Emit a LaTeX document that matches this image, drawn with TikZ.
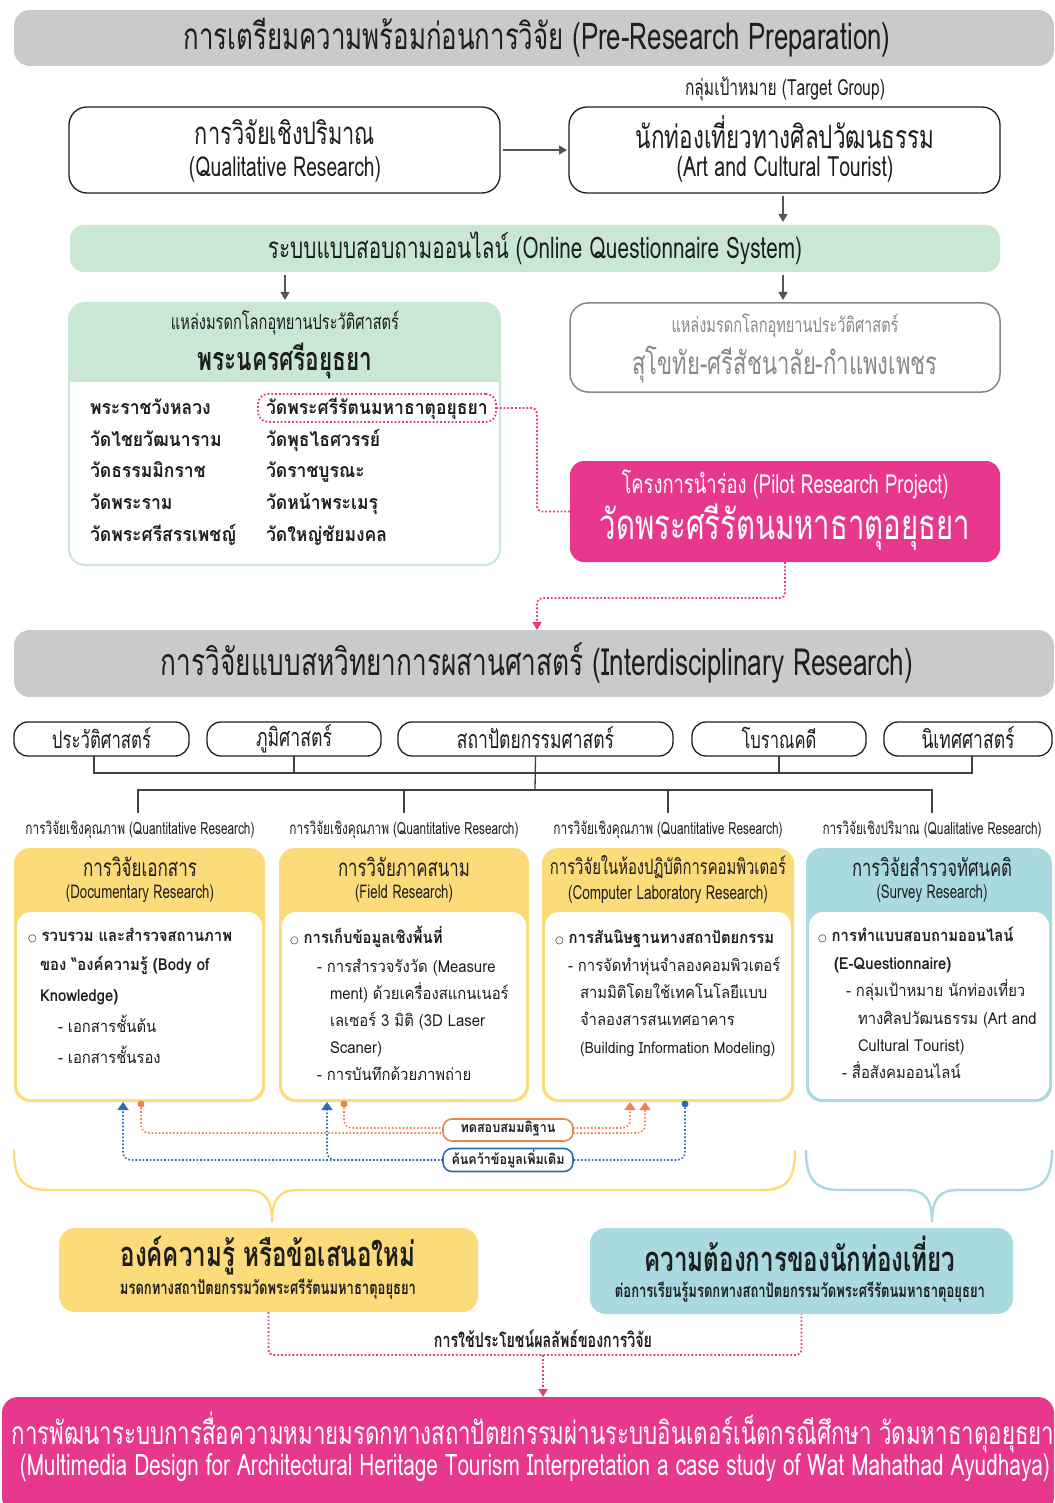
\documentclass[tikz,border=0pt]{standalone}
\usepackage{fontspec}
\usetikzlibrary{arrows.meta,calc}
\setmainfont[Script=Thai]{Loma}
\newfontfamily\hd[Script=Thai,FakeStretch=0.7]{Loma}
\newfontfamily\bd[Script=Thai,FakeStretch=0.9]{Loma}
\newfontfamily\djv{DejaVu Sans}
\newcommand\fit[2]{\resizebox{#1pt}{!}{#2}}
\newcommand\bul{{\fontsize{10}{10}\djv ○}}
\definecolor{hgrey}{HTML}{C9CACC}
\definecolor{mint}{HTML}{CAE7D3}
\definecolor{pnk}{HTML}{E8388E}
\definecolor{yel}{HTML}{FBDB7A}
\definecolor{lblue}{HTML}{A9DAE0}
\definecolor{ink}{HTML}{1E1E1E}
\definecolor{org}{HTML}{EE8350}
\definecolor{blu}{HTML}{2D6DB5}
\definecolor{gline}{HTML}{555555}
\definecolor{gtext}{HTML}{8A8A8A}
\tikzset{
  every node/.style={inner sep=0pt, outer sep=0pt, text=ink},
  hdr/.style={fill=hgrey, rounded corners=16pt},
  rbox/.style={draw=ink, line width=1.3pt, rounded corners=18pt, fill=white},
  pill/.style={draw=ink, line width=1.3pt, rounded corners=14pt, fill=white, minimum height=34pt},
  garrow/.style={draw=gline, line width=1.3pt, -{Triangle[width=9pt,length=8pt]}},
  pdot/.style={draw=pnk, line width=1.8pt, dotted, rounded corners=5pt},
  parrow/.style={pdot, -{Triangle[width=9pt,length=8pt]}},
  tree/.style={draw=ink!85, line width=1.3pt},
  col/.style={rounded corners=16pt, minimum height=254pt},
  inner/.style={fill=white, rounded corners=14pt, minimum height=187pt},
  body/.style={anchor=base west, font=\bd\fontsize{16.5}{16.5}\selectfont},
  bodys/.style={anchor=base west, font=\bd\fontsize{15.5}{15.5}\selectfont},
  bodyb/.style={body, font=\bd\bfseries\fontsize{16.5}{16.5}\selectfont},
  lst/.style={anchor=base west, font=\bd\bfseries\fontsize{19.5}{19.5}\selectfont},
  odot/.style={draw=org, line width=1.6pt, dotted, rounded corners=8pt},
  bdot/.style={draw=blu, line width=1.6pt, dotted, rounded corners=8pt},
  otip/.style={odot, -{Triangle[width=11pt,length=8pt]}},
  btip/.style={bdot, -{Triangle[width=11pt,length=8pt]}},
  ybrace/.style={draw=yel, line width=2.4pt},
  bbrace/.style={draw=lblue, line width=2.4pt},
}
\begin{document}
\begin{tikzpicture}[x=1pt,y=-1pt]
\useasboundingbox (0,0) rectangle (1054,1503);
\fill[white] (0,0) rectangle (1054,1503);

% ---------- Pre-research ----------
\node[hdr, minimum width=1040pt, minimum height=56pt] (h1) at (534,38) {};
\node (h1t) at (537,38) {\hd\fit{707}{การเตรียมความพร้อมก่อนการวิจัย (Pre-Research Preparation)}};
\node (tg) at (785,89) {\hd\fit{200}{กลุ่มเป้าหมาย (Target Group)}};

\node[rbox, minimum width=431pt, minimum height=86pt] (q) at (284.5,150) {};
\node (q1) at (285,132) {\hd\fit{180}{การวิจัยเชิงปริมาณ}};
\node (q2) at (285,169) {\hd\fit{192}{(Qualitative Research)}};
\node[rbox, minimum width=431pt, minimum height=86pt] (t) at (784.5,150) {};
\node (t1) at (785,132) {\hd\fit{298}{นักท่องเที่ยวทางศิลปวัฒนธรรม}};
\node (t2) at (785,169) {\hd\fit{217}{(Art and Cultural Tourist)}};
\draw[garrow, shorten <=3pt, shorten >=2pt] (q.east) -- (t.west);

\node[fill=mint, rounded corners=14pt, minimum width=930pt, minimum height=47pt] (ob) at (535,248.5) {};
\node (obt) at (535,248) {\hd\fit{534}{ระบบแบบสอบถามออนไลน์ (Online Questionnaire System)}};
\draw[garrow, shorten <=3pt, shorten >=3pt] (t.south -| 783,0) -- (ob.north -| 783,0);

% left panel
\node[minimum width=431pt, minimum height=262pt] (lp) at (284.5,434) {};
\begin{scope}
\clip[rounded corners=16pt] (lp.south west) rectangle (lp.north east);
\fill[mint] (69,303) rectangle (500,382);
\end{scope}
\draw[mint, line width=2pt, rounded corners=16pt] (lp.south west) rectangle (lp.north east);
\node (lp1) at (285,323) {\hd\fit{228}{แหล่งมรดกโลกอุทยานประวัติศาสตร์}};
\node (lp2) at (285,361) {\hd\bfseries\fit{175}{พระนครศรีอยุธยา}};
\draw[garrow, shorten <=3pt, shorten >=3pt] (ob.south -| 285,0) -- (lp.north -| 285,0);

\node[lst] (a1) at (90,414) {พระราชวังหลวง};
\node[lst] (a2) at (90,446) {วัดไชยวัฒนาราม};
\node[lst] (a3) at (90,477) {วัดธรรมมิกราช};
\node[lst] (a4) at (90,509) {วัดพระราม};
\node[lst] (a5) at (90,541) {วัดพระศรีสรรเพชญ์};
\node[lst] (b1) at (266,414) {วัดพระศรีรัตนมหาธาตุอยุธยา};
\node[lst] (b2) at (266,446) {วัดพุธไธศวรรย์};
\node[lst] (b3) at (266,477) {วัดราชบูรณะ};
\node[lst] (b4) at (266,509) {วัดหน้าพระเมรุ};
\node[lst] (b5) at (266,541) {วัดใหญ่ชัยมงคล};
\node[draw=pnk, line width=1.8pt, dotted, rounded corners=10pt, minimum width=238pt, minimum height=28pt] (wat) at (377,408) {};

% right box
\node[draw=gline!70, line width=1.5pt, rounded corners=18pt, minimum width=430pt, minimum height=89pt] (sk) at (785,347.5) {};
\node[text=gtext] (sk1) at (785,326) {\hd\fit{227}{แหล่งมรดกโลกอุทยานประวัติศาสตร์}};
\node[text=gtext] (sk2) at (785,364) {\hd\fit{305}{สุโขทัย-ศรีสัชนาลัย-กำแพงเพชร}};
\draw[garrow, shorten <=3pt, shorten >=3pt] (ob.south -| 783,0) -- (sk.north -| 783,0);

% pilot
\node[fill=pnk, rounded corners=14pt, minimum width=430pt, minimum height=101pt] (pilot) at (785,511.5) {};
\node[text=white] (pl1) at (785,484) {\hd\fit{327}{โครงการนำร่อง (Pilot Research Project)}};
\node[text=white] (pl2) at (785,527) {\hd\fit{370}{วัดพระศรีรัตนมหาธาตุอยุธยา}};
\coordinate (c1) at (537,408);
\draw[pdot] (wat.east) -- (c1) |- (pilot.west);

% ---------- Interdisciplinary ----------
\node[hdr, minimum width=1040pt, minimum height=67pt] (h2) at (534,663.5) {};
\node (h2t) at (537,663) {\hd\fit{752}{การวิจัยแบบสหวิทยาการผสานศาสตร์ (Interdisciplinary Research)}};
\coordinate (c2) at (537,598);
\draw[parrow] (pilot.south) |- (c2) -- (c2 |- h2.north);

\node[pill, minimum width=175pt] (p1) at (101.5,739) {};
\node[pill, minimum width=174pt] (p2) at (294,739) {};
\node[pill, minimum width=275pt] (p3) at (535.5,739) {};
\node[pill, minimum width=174pt] (p4) at (779,739) {};
\node[pill, minimum width=168pt] (p5) at (968,739) {};
\node (p1t) at (101.5,738) {\hd\fit{99}{ประวัติศาสตร์}};
\node (p2t) at (294,739) {\hd\fit{76}{ภูมิศาสตร์}};
\node (p3t) at (535.5,738) {\hd\fit{157}{สถาปัตยกรรมศาสตร์}};
\node (p4t) at (779,738) {\hd\fit{75}{โบราณคดี}};
\node (p5t) at (968,738) {\hd\fit{93}{นิเทศศาสตร์}};

\coordinate (j1) at (535,773);
\coordinate (j2) at (535,790);
\draw[tree] (p1.south -| 94,0) |- (j1);
\draw[tree] (p5.south -| 972,0) |- (j1);
\draw[tree] (p2.south) -- (p2.south |- j1);
\draw[tree] (p4.south) -- (p4.south |- j1);
\draw[tree] (p3.south) -- (j2);

\node (l1) at (140,830) {\hd\fit{229}{การวิจัยเชิงคุณภาพ (Quantitative Research)}};
\node (l2) at (404,830) {\hd\fit{229}{การวิจัยเชิงคุณภาพ (Quantitative Research)}};
\node (l3) at (668,830) {\hd\fit{229}{การวิจัยเชิงคุณภาพ (Quantitative Research)}};
\node (l4) at (932,830) {\hd\fit{219}{การวิจัยเชิงปริมาณ (Qualitative Research)}};
\draw[tree] (l1.north -| 138,0) ++(0,-8) |- (j2);
\draw[tree] (l4.north) ++(0,-8) |- (j2);
\draw[tree] (l2.north) ++(0,-8) -- (404,790);
\draw[tree] (l3.north) ++(0,-8) -- (668,790);

% columns
\node[col, fill=yel, minimum width=251pt] (c1b) at (139.5,975) {};
\node[col, fill=yel, minimum width=250pt] (c2b) at (404,975) {};
\node[col, fill=yel, minimum width=252pt] (c3b) at (668,975) {};
\node[col, fill=lblue, minimum width=246pt] (c4b) at (929,975) {};
\node[inner, minimum width=245pt] (w1) at (139.5,1005.5) {};
\node[inner, minimum width=244pt] (w2) at (404,1005.5) {};
\node[inner, minimum width=246pt] (w3) at (668,1005.5) {};
\node[inner, minimum width=240pt] (w4) at (929,1005.5) {};

\node (ch1a) at (140,867) {\hd\fit{114}{การวิจัยเอกสาร}};
\node (ch1b) at (140,894) {\hd\fit{148}{(Documentary Research)}};
\node (ch2a) at (404,867) {\hd\fit{132}{การวิจัยภาคสนาม}};
\node (ch2b) at (404,894) {\hd\fit{98}{(Field Research)}};
\node (ch3a) at (668,867) {\hd\fit{236}{การวิจัยในห้องปฏิบัติการคอมพิวเตอร์}};
\node (ch3b) at (668,894) {\hd\fit{200}{(Computer Laboratory Research)}};
\node (ch4a) at (932,867) {\hd\fit{160}{การวิจัยสำรวจทัศนคติ}};
\node (ch4b) at (932,894) {\hd\fit{111}{(Survey Research)}};

\node[bodyb] (t11) at (28,941) {\bul\ รวบรวม และสำรวจสถานภาพ};
\node[bodyb] (t12) at (40,970) {ของ “องค์ความรู้ (Body of};
\node[bodyb] (t13) at (40,1001) {Knowledge)};
\node[body] (t14) at (58,1032) {- เอกสารชั้นต้น};
\node[body] (t15) at (58,1063) {- เอกสารชั้นรอง};

\node[bodyb] (t21) at (290,943) {\bul\ การเก็บข้อมูลเชิงพื้นที่};
\node[body] (t22) at (317,972) {- การสำรวจรังวัด (Measure};
\node[body] (t23) at (330,999) {ment) ด้วยเครื่องสแกนเนอร์};
\node[body] (t24) at (330,1026) {เลเซอร์ 3 มิติ (3D Laser};
\node[body] (t25) at (330,1053) {Scaner)};
\node[body] (t26) at (317,1080) {- การบันทึกด้วยภาพถ่าย};

\node[bodyb] (t31) at (555,943) {\bul\ การสันนิษฐานทางสถาปัตยกรรม};
\node[body] (t32) at (568,971) {- การจัดทำหุ่นจำลองคอมพิวเตอร์};
\node[body] (t33) at (580,998) {สามมิติโดยใช้เทคโนโลยีแบบ};
\node[body] (t34) at (580,1025) {จำลองสารสนเทศอาคาร};
\node[bodys] (t35) at (580,1053) {(Building Information Modeling)};

\node[bodyb] (t41) at (818,941) {\bul\ การทำแบบสอบถามออนไลน์};
\node[bodyb] (t42) at (834,969) {(E-Questionnaire)};
\node[body] (t43) at (846,996) {- กลุ่มเป้าหมาย นักท่องเที่ยว};
\node[body] (t44) at (858,1024) {ทางศิลปวัฒนธรรม (Art and};
\node[body] (t45) at (858,1051) {Cultural Tourist)};
\node[body] (t46) at (842,1078) {- สื่อสังคมออนไลน์};

% feedback loops
\node[draw=org, line width=1.6pt, fill=white, rounded corners=9pt, minimum width=130pt, minimum height=22pt] (hyp) at (508,1130) {};
\node (hypt) at (508,1129) {\bd\bfseries\fit{95}{ทดสอบสมมติฐาน}};
\node[draw=blu, line width=1.6pt, fill=white, rounded corners=9pt, minimum width=130pt, minimum height=23pt] (res) at (508,1160) {};
\node (rest) at (508,1159) {\bd\bfseries\fit{113}{ค้นคว้าข้อมูลเพิ่มเติม}};

\coordinate (o1) at (141,1104);
\coordinate (o2) at (344,1104);
\coordinate (oa1) at (630,1102);
\coordinate (oa2) at (645,1102);
\coordinate (bd1) at (685,1104);
\coordinate (ba1) at (123,1102);
\coordinate (ba2) at (327,1102);

\draw[odot] (o1) |- ([yshift=-3pt]hyp.west);
\draw[odot] (o2) |- ([yshift=2pt]hyp.west);
\draw[otip] ([yshift=2pt]hyp.east) -| (oa1);
\draw[otip] ([yshift=-3pt]hyp.east) -| (oa2);
\fill[org] (o1) circle (3.5pt);
\fill[org] (o2) circle (3.5pt);

\draw[bdot] (bd1) |- (res.east);
\draw[btip] (res.west) -| (ba1);
\draw[btip] (res.west) -| (ba2);
\fill[blu] (bd1) circle (3.5pt);

% braces
\coordinate (ytip) at (272,1222);
\coordinate (btip) at (932,1222);
\draw[ybrace] (14,1150) .. controls (14,1178) and (22,1190) .. (48,1190) -- (246,1190)
   .. controls (264,1190) and (272,1198) .. (ytip)
   .. controls (272,1198) and (280,1190) .. (298,1190) -- (762,1190)
   .. controls (788,1190) and (795,1178) .. (795,1150);
\draw[bbrace] (806,1150) .. controls (806,1178) and (814,1190) .. (840,1190) -- (906,1190)
   .. controls (924,1190) and (932,1198) .. (btip)
   .. controls (932,1198) and (940,1190) .. (958,1190) -- (1018,1190)
   .. controls (1044,1190) and (1052,1178) .. (1052,1150);

% results
\node[fill=yel, rounded corners=16pt, minimum width=419pt, minimum height=84pt] (r1) at (268.5,1270) {};
\node (r1a) at (268,1256) {\hd\bfseries\fit{295}{องค์ความรู้ หรือข้อเสนอใหม่}};
\node (r1b) at (268,1289) {\hd\bfseries\fit{296}{มรดกทางสถาปัตยกรรมวัดพระศรีรัตนมหาธาตุอยุธยา}};
\node[fill=lblue, rounded corners=16pt, minimum width=423pt, minimum height=86pt] (r2) at (801.5,1271) {};
\node (r2a) at (800,1254) {\hd\bfseries\fit{311}{ความต้องการของนักท่องเที่ยว}};
\node (r2b) at (800,1292) {\hd\bfseries\fit{370}{ต่อการเรียนรู้มรดกทางสถาปัตยกรรมวัดพระศรีรัตนมหาธาตุอยุธยา}};

\coordinate (c3) at (543,1355);
\draw[pdot] (r1.south) |- (c3) -| (r2.south);
\node (use) at (543,1339) {\hd\bfseries\fit{218}{การใช้ประโยชน์ผลลัพธ์ของการวิจัย}};

% bottom
\node[fill=pnk, rounded corners=16pt, minimum width=1052pt, minimum height=116pt] (bot) at (528,1455) {};
\draw[parrow] (c3) -- (c3 |- bot.north);
\node[text=white] (bt1) at (533,1432) {\hd\fit{1042}{การพัฒนาระบบการสื่อความหมายมรดกทางสถาปัตยกรรมผ่านระบบอินเตอร์เน็ตกรณีศึกษา วัดมหาธาตุอยุธยา}};
\node[text=white] (bt2) at (535,1468) {\hd\fit{1030}{(Multimedia Design for Architectural Heritage Tourism Interpretation a case study of Wat Mahathad Ayudhaya)}};
\end{tikzpicture}
\end{document}
